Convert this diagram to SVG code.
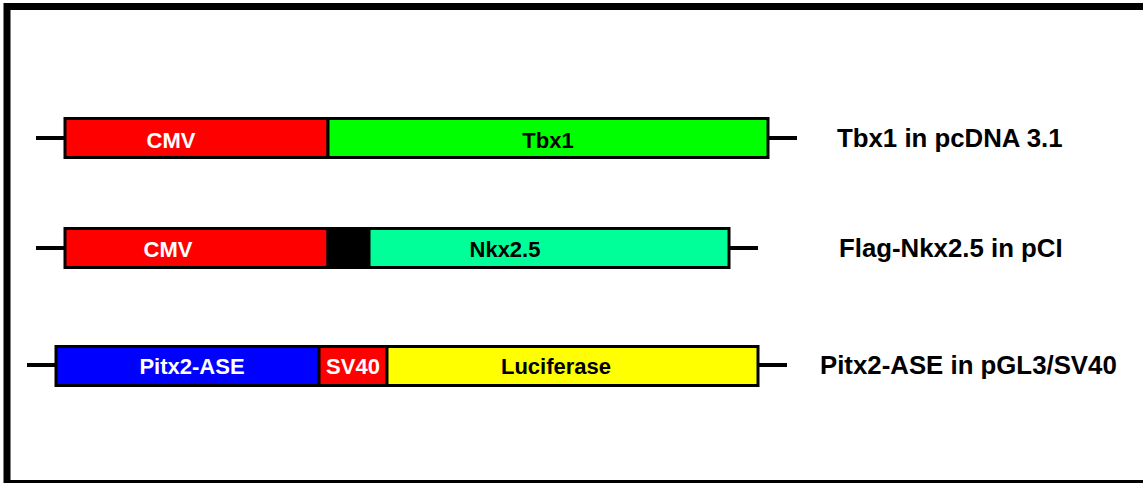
<svg xmlns="http://www.w3.org/2000/svg" width="1143" height="483" viewBox="0 0 1143 483">
  <style>
    .seg { stroke: #000; stroke-width: 3; }
    .dna { stroke: #000; stroke-width: 4; fill: none; }
    .in  { font-family: "Liberation Sans", Arial, sans-serif; font-weight: bold; font-size: 22px; text-anchor: middle; }
    .w   { fill: #fff; }
    .k   { fill: #000; }
    .name { font-family: "Liberation Sans", Arial, sans-serif; font-weight: bold; font-size: 25.8px; fill: #000; }
  </style>
  <rect x="0" y="0" width="1143" height="483" fill="#fff"/>
  <!-- frame -->
  <rect x="7" y="6.5" width="1150" height="477" fill="none" stroke="#000" stroke-width="7"/>

  <!-- backbone lines flanking each construct -->
  <g id="connectors">
    <line class="dna" x1="36" y1="138" x2="65" y2="138"/>
    <line class="dna" x1="768" y1="138" x2="797" y2="138"/>
    <line class="dna" x1="36" y1="248" x2="65" y2="248"/>
    <line class="dna" x1="729" y1="248" x2="758" y2="248"/>
    <line class="dna" x1="27" y1="365" x2="56" y2="365"/>
    <line class="dna" x1="758" y1="365" x2="787" y2="365"/>
  </g>

  <!-- Tbx1 expression construct -->
  <g id="tbx1">
    <rect class="seg" x="65" y="118.5" width="263" height="39" fill="#ff0000"/>
    <rect class="seg" x="328" y="118.5" width="440" height="39" fill="#00ff00"/>
    <text class="in w" x="171" y="148">CMV</text>
    <text class="in k" x="548" y="148">Tbx1</text>
    <text class="name" x="837" y="147">Tbx1 in pcDNA 3.1</text>
  </g>

  <!-- Flag-Nkx2.5 expression construct -->
  <g id="nkx25">
    <rect class="seg" x="65" y="228.5" width="263" height="39" fill="#ff0000"/>
    <rect class="seg" x="328" y="228.5" width="41" height="39" fill="#000"/>
    <rect class="seg" x="369" y="228.5" width="360" height="39" fill="#00ff99"/>
    <text class="in w" x="168" y="257">CMV</text>
    <text class="in k" x="505" y="257">Nkx2.5</text>
    <text class="name" x="839" y="257">Flag-Nkx2.5 in pCI</text>
  </g>

  <!-- Pitx2-ASE reporter construct -->
  <g id="pitx2">
    <rect class="seg" x="56" y="346.5" width="263" height="39" fill="#0000ff"/>
    <rect class="seg" x="319" y="346.5" width="68" height="39" fill="#ff0000"/>
    <rect class="seg" x="387" y="346.5" width="371" height="39" fill="#ffff00"/>
    <text class="in w" x="192" y="374">Pitx2-ASE</text>
    <text class="in w" x="353" y="374">SV40</text>
    <text class="in k" x="556" y="374">Luciferase</text>
    <text class="name" x="820" y="374">Pitx2-ASE in pGL3/SV40</text>
  </g>
</svg>
